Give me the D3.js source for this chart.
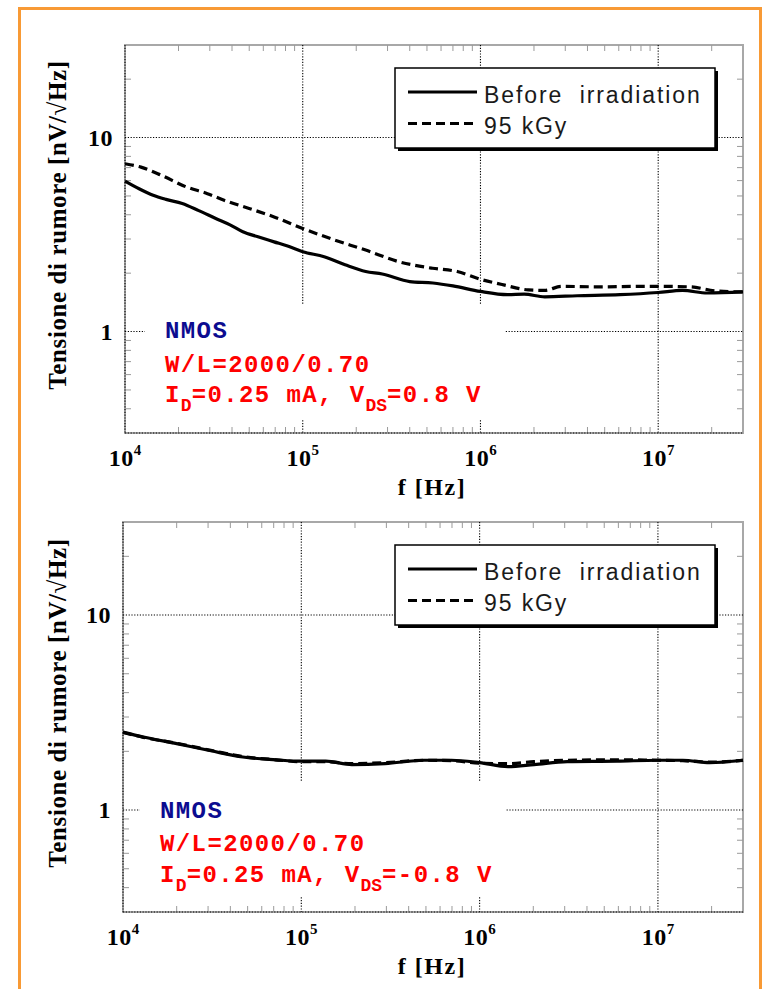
<!DOCTYPE html>
<html>
<head>
<meta charset="utf-8">
<script src="https://cdn.jsdelivr.net/npm/d3@7"></script>
<style>
  html, body { margin: 0; padding: 0; background: #fff; }
  svg { display: block; }
</style>
</head>
<body>
<svg id="chart" width="764" height="989"></svg>
<script>
// ---------------- DATA ----------------
const xTickValues = [1e4, 1e5, 1e6, 1e7];
const xTickExponents = ["4", "5", "6", "7"];
const yTickValues = [1, 10];
const yTickLabels = ["1", "10"];
const xDomain = [1e4, 3e7];
const yDomain = [0.3, 30];
const seriesNames = ["Before\u00A0\u00A0irradiation", "95 kGy"];

// Top panel (V_DS = 0.8 V)
const topBeforeF = [1e4, 1.2e4, 1.44e4, 1.7e4, 2.1e4, 2.6e4, 3.24e4, 3.9e4, 4.6e4, 5.6e4, 6.9e4, 8.3e4, 1e5, 1.32e5, 1.73e5, 2.26e5, 2.8e5, 4e5, 5.4e5, 7e5, 1e6, 1.42e6, 1.76e6, 2.3e6, 3.5e6, 6.1e6, 1e7, 1.37e7, 1.89e7, 3e7];
const topBeforeV = [5.97, 5.45, 5.04, 4.8, 4.57, 4.2, 3.83, 3.55, 3.27, 3.08, 2.90, 2.75, 2.58, 2.43, 2.21, 2.04, 1.98, 1.81, 1.78, 1.72, 1.61, 1.55, 1.56, 1.51, 1.53, 1.55, 1.59, 1.63, 1.58, 1.60];
const topAfterF = [1e4, 1.23e4, 1.61e4, 2.22e4, 2.91e4, 3.61e4, 4.99e4, 6.9e4, 1e5, 1.47e5, 2.26e5, 3.48e5, 5.37e5, 7.4e5, 1e6, 1.35e6, 1.86e6, 2.3e6, 2.86e6, 4.6e6, 8e6, 1e7, 1.52e7, 2.1e7, 3e7];
const topAfterV = [7.33, 7.04, 6.38, 5.56, 5.14, 4.75, 4.31, 3.90, 3.40, 2.99, 2.63, 2.29, 2.12, 2.04, 1.86, 1.74, 1.64, 1.63, 1.71, 1.70, 1.71, 1.71, 1.70, 1.62, 1.60];

// Bottom panel (V_DS = -0.8 V)
const botBeforeF = [1e4, 1.3e4, 2e4, 3.06e4, 4.7e4, 7.2e4, 1e5, 1.37e5, 1.92e5, 2.95e5, 4.9e5, 6.95e5, 1e6, 1.44e6, 2.02e6, 3.1e6, 5.9e6, 1e7, 1.38e7, 1.95e7, 3e7];
const botBeforeV = [2.51, 2.37, 2.19, 2.02, 1.87, 1.81, 1.78, 1.78, 1.71, 1.73, 1.80, 1.80, 1.75, 1.67, 1.71, 1.77, 1.78, 1.80, 1.80, 1.75, 1.80];
const botAfterF = [1e4, 1.3e4, 2e4, 3.06e4, 4.7e4, 7.2e4, 1e5, 1.37e5, 1.92e5, 2.95e5, 4.9e5, 6.95e5, 1e6, 1.44e6, 2.02e6, 3.1e6, 5.9e6, 1e7, 1.38e7, 1.95e7, 3e7];
const botAfterV = [2.50, 2.36, 2.20, 2.03, 1.88, 1.81, 1.77, 1.77, 1.73, 1.75, 1.80, 1.79, 1.74, 1.73, 1.77, 1.80, 1.81, 1.80, 1.79, 1.76, 1.80];

const annotDevice = "NMOS";
const annotWL = "W/L=2000/0.70";
const topVds = "=0.8 V";
const botVds = "=-0.8 V";

// ---------------- LAYOUT ----------------
const svg = d3.select("#chart");
const serif = "'Liberation Serif', 'Times New Roman', serif";
const sans = "'Liberation Sans', Arial, sans-serif";
const mono = "'Liberation Mono', 'Courier New', monospace";

// orange frame
svg.append("rect").attr("x", 19.5).attr("y", 8.5).attr("width", 741).attr("height", 1000)
  .attr("fill", "none").attr("stroke", "#f89a35").attr("stroke-width", 3);

const panels = [
  { top: 45, bottom: 433, left: 125, right: 743, before: [topBeforeF, topBeforeV], after: [topAfterF, topAfterV], vds: topVds, textX: 165, base: [293, 326.5, 357] },
  { top: 522, bottom: 912, left: 123, right: 743, before: [botBeforeF, botBeforeV], after: [botAfterF, botAfterV], vds: botVds, textX: 160, base: [296, 329, 360] }
];

function minorValues(lo, hi) {
  const out = [];
  for (let e = Math.floor(Math.log10(lo)); e <= Math.ceil(Math.log10(hi)); e++) {
    for (let m = 2; m <= 9; m++) {
      const v = m * Math.pow(10, e);
      if (v > lo * 1.0001 && v < hi * 0.9999) out.push(v);
    }
  }
  return out;
}

panels.forEach(p => {
  const x = d3.scaleLog().domain(xDomain).range([p.left, p.right]);
  const y = d3.scaleLog().domain(yDomain).range([p.bottom, p.top]);
  const g = svg.append("g");

  // frame
  g.append("rect").attr("x", p.left).attr("y", p.top)
    .attr("width", p.right - p.left).attr("height", p.bottom - p.top)
    .attr("fill", "#fff").attr("stroke", "#a8a8a8").attr("stroke-width", 2);

  // minor ticks (gray, inward, all four sides)
  const xm = minorValues(xDomain[0], xDomain[1]);
  const ym = minorValues(yDomain[0], yDomain[1]);
  const tickG = g.append("g").attr("stroke", "#9a9a9a").attr("stroke-width", 1);
  xm.forEach(v => {
    tickG.append("line").attr("x1", x(v)).attr("x2", x(v)).attr("y1", p.bottom).attr("y2", p.bottom - 6);
    tickG.append("line").attr("x1", x(v)).attr("x2", x(v)).attr("y1", p.top).attr("y2", p.top + 6);
  });
  ym.forEach(v => {
    tickG.append("line").attr("x1", p.left).attr("x2", p.left + 6).attr("y1", y(v)).attr("y2", y(v));
    tickG.append("line").attr("x1", p.right).attr("x2", p.right - 6).attr("y1", y(v)).attr("y2", y(v));
  });

  // dotted grid
  const gridG = g.append("g").attr("stroke", "#000").attr("stroke-width", 1.1).attr("stroke-dasharray", "1.2,1.6");
  xTickValues.forEach(v => {
    gridG.append("line").attr("x1", x(v)).attr("x2", x(v)).attr("y1", p.top).attr("y2", p.bottom);
  });
  yTickValues.forEach(v => {
    gridG.append("line").attr("x1", p.left).attr("x2", p.right).attr("y1", y(v)).attr("y2", y(v));
  });
  gridG.append("line").attr("x1", p.left).attr("x2", p.right).attr("y1", p.bottom).attr("y2", p.bottom);

  // white box behind annotation
  g.append("rect").attr("x", p.textX - 20).attr("y", p.top + 260)
    .attr("width", 505 - (p.textX - 20)).attr("height", 114).attr("fill", "#fff");

  // curves
  const line = d3.line().x(d => x(d[0])).y(d => y(d[1])).curve(d3.curveMonotoneX);
  const before = p.before[0].map((f, i) => [f, p.before[1][i]]);
  const after = p.after[0].map((f, i) => [f, p.after[1][i]]);
  g.append("path").datum(after).attr("d", line).attr("fill", "none")
    .attr("stroke", "#000").attr("stroke-width", 3.2).attr("stroke-dasharray", "9,5");
  g.append("path").datum(before).attr("d", line).attr("fill", "none")
    .attr("stroke", "#000").attr("stroke-width", 3.2);

  // legend
  const lx = 395, ly = p.top + 23, lw = 320, lh = 80;
  g.append("rect").attr("x", lx + 3).attr("y", ly + 3).attr("width", lw).attr("height", lh).attr("fill", "#000");
  g.append("rect").attr("x", lx).attr("y", ly).attr("width", lw).attr("height", lh)
    .attr("fill", "#fff").attr("stroke", "#000").attr("stroke-width", 1.5);
  const rows = [{ yl: 24, yt: 35, dash: null }, { yl: 55.5, yt: 66, dash: "9,5" }];
  rows.forEach((r, i) => {
    const ln = g.append("line").attr("x1", lx + 13).attr("x2", lx + 82)
      .attr("y1", ly + r.yl).attr("y2", ly + r.yl)
      .attr("stroke", "#000").attr("stroke-width", 3.2);
    if (r.dash) ln.attr("stroke-dasharray", r.dash);
    g.append("text").attr("x", lx + 89).attr("y", ly + r.yt)
      .attr("font-family", sans).attr("font-size", 23).attr("letter-spacing", 1.9).attr("fill", "#1a1a1a")
      .text(seriesNames[i]);
  });

  // y tick labels
  yTickValues.forEach((v, i) => {
    g.append("text").attr("x", p.left - 12).attr("y", y(v))
      .attr("text-anchor", "end").attr("dominant-baseline", "central")
      .attr("font-family", serif).attr("font-weight", "bold").attr("font-size", 24)
      .attr("letter-spacing", 0.5)
      .text(yTickLabels[i]);
  });

  // x tick labels
  xTickValues.forEach((v, i) => {
    const t = g.append("text").attr("x", x(v)).attr("y", p.bottom + 33)
      .attr("text-anchor", "middle").attr("font-family", serif).attr("font-weight", "bold");
    t.append("tspan").attr("font-size", 24).attr("letter-spacing", 0.5).text("10");
    t.append("tspan").attr("font-size", 15).attr("dy", -11).text(xTickExponents[i]);
  });

  // axis titles
  g.append("text").attr("x", 432).attr("y", p.bottom + 62).attr("text-anchor", "middle")
    .attr("font-family", serif).attr("font-weight", "bold").attr("font-size", 24)
    .attr("letter-spacing", 1.5).text("f [Hz]");
  const cy = (p.top + p.bottom) / 2 - 14;
  g.append("text").attr("transform", `translate(66,${cy}) rotate(-90)`).attr("text-anchor", "middle")
    .attr("font-family", serif).attr("font-weight", "bold").attr("font-size", 25)
    .attr("letter-spacing", 0.6)
    .text("Tensione di rumore [nV/\u221AHz]");

  // annotation
  const tx = p.textX;
  g.append("text").attr("x", tx).attr("y", p.top + p.base[0])
    .attr("font-family", mono).attr("font-weight", "bold").attr("font-size", 24)
    .attr("letter-spacing", 1.4).attr("fill", "#0c0c90").text(annotDevice);
  g.append("text").attr("x", tx).attr("y", p.top + p.base[1])
    .attr("font-family", mono).attr("font-weight", "bold").attr("font-size", 24)
    .attr("letter-spacing", 1.4).attr("fill", "#ff0000").text(annotWL);
  const t3 = g.append("text").attr("x", tx).attr("y", p.top + p.base[2])
    .attr("font-family", mono).attr("font-weight", "bold").attr("fill", "#ff0000")
    .style("white-space", "pre");
  t3.append("tspan").attr("font-size", 24).attr("letter-spacing", 1.4).text("I");
  t3.append("tspan").attr("font-size", 18).attr("dy", 9).text("D");
  t3.append("tspan").attr("font-size", 24).attr("letter-spacing", 1.4).attr("dy", -9).text("=0.25 mA, V");
  t3.append("tspan").attr("font-size", 18).attr("dy", 9).text("DS");
  t3.append("tspan").attr("font-size", 24).attr("letter-spacing", 1.4).attr("dy", -9).text(p.vds);
});
</script>
</body>
</html>
